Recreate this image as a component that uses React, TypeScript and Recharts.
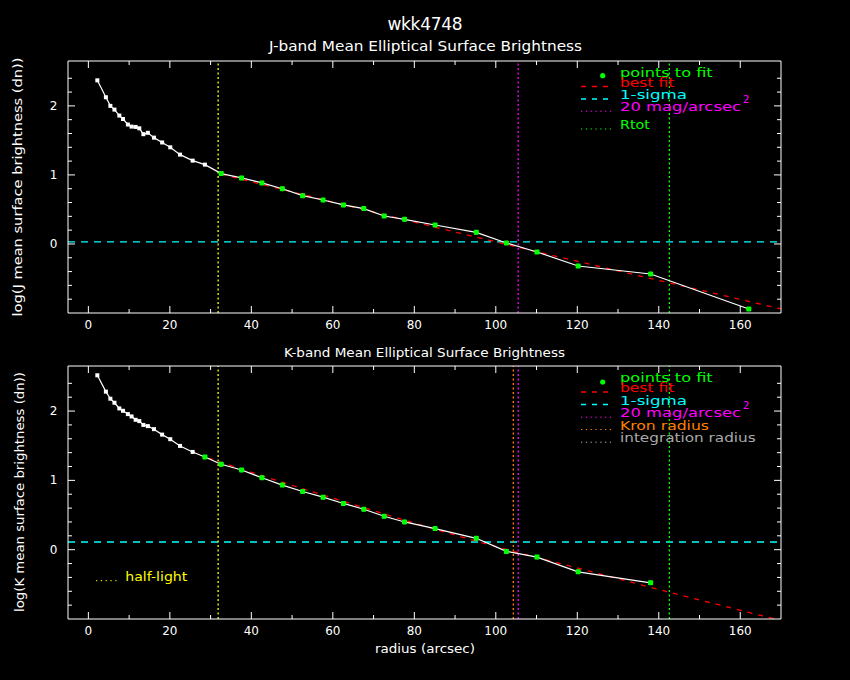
import { ComposedChart, Line, XAxis, YAxis, ReferenceLine } from 'recharts'

// radii of the elliptical annuli (arcsec), shared by both bands
const radius = [
  2.2, 4.3, 5.4, 6.4, 7.6, 8.5, 9.7, 10.6, 11.6, 12.5, 13.5, 14.6, 16.1, 18.1, 20.1, 22.5, 25.6, 28.6,
  32.6, 37.6, 42.6, 47.6, 52.6, 57.6, 62.6, 67.6, 72.6, 77.6, 85.1, 95.2, 102.6, 110.1, 120.2, 138.0, 162.1,
]
const jBrightness = [
  2.37, 2.125, 2.0, 1.946, 1.86, 1.81, 1.73, 1.7, 1.695, 1.675, 1.59, 1.61, 1.54, 1.47, 1.4, 1.294, 1.207, 1.149,
  1.019, 0.956, 0.884, 0.8, 0.7, 0.637, 0.565, 0.512, 0.405, 0.357, 0.275, 0.168, 0.014, -0.116, -0.319, -0.435, -0.942,
]
const kBrightness = [
  2.516, 2.28, 2.178, 2.12, 2.038, 2.004, 1.956, 1.922, 1.874, 1.855, 1.8, 1.783, 1.739, 1.66, 1.594, 1.497, 1.41, 1.338,
  1.232, 1.149, 1.038, 0.932, 0.84, 0.758, 0.667, 0.584, 0.483, 0.4, 0.304, 0.164, -0.025, -0.107, -0.319, -0.478,
]
const jFitStart = 32.6
const kFitStart = 28.6

const jBestFitRadius = [32.6, 94.4, 170]
const jBestFitValue = [1.01, 0.11, -0.94]
const kBestFitRadius = [29.4, 64.2, 98.5, 122.3, 141.1, 168.5]
const kBestFitValue = [1.32, 0.667, 0.07, -0.3, -0.59, -1.0]

const jSigma = 0.03
const kSigma = 0.11
const halfLight = 31.85
const mag20 = 105.5
const kronRadius = 104.3
const rtot = 142.6

const X_TICKS = [0, 10, 20, 30, 40, 50, 60, 70, 80, 90, 100, 110, 120, 130, 140, 150, 160]
const Y_TICKS = [-0.8, -0.6, -0.4, -0.2, 0, 0.2, 0.4, 0.6, 0.8, 1, 1.2, 1.4, 1.6, 1.8, 2, 2.2, 2.4]

const W = 850
const PANEL_H = 340
const LEFT = 68
const RIGHT = 69
const FONT = '"DejaVu Sans", Verdana, sans-serif'

const RED = '#ff0000'
const CYAN = '#00ffff'
const GREEN = '#00ff00'
const MAGENTA = '#ff00ff'
const YELLOW = '#ffff00'
const ORANGE = '#ff8000'
const GRAY = '#aaaaaa'
const DOTS = '2 2.5'

const xTick = (edge: number, dir: number, label: boolean) => (p: any) => {
  const v = p.payload.value
  const major = v % 20 === 0
  return (
    <g key={`x${v}`}>
      <line x1={p.x} y1={edge} x2={p.x} y2={edge + dir * (major ? 7 : 4)} stroke="#fff" />
      {label && major && (
        <text x={p.x} y={edge + 12} textAnchor="middle" dominantBaseline="central" fill="#fff" fontSize={12} fontFamily={FONT}>
          {v}
        </text>
      )}
    </g>
  )
}

const yTick = (edge: number, dir: number, label: boolean) => (p: any) => {
  const v = p.payload.value
  const major = Math.abs(v - Math.round(v)) < 1e-6
  return (
    <g key={`y${v}`}>
      <line x1={edge} y1={p.y} x2={edge + dir * (major ? 7 : 4)} y2={p.y} stroke="#fff" />
      {label && major && (
        <text x={edge - 10.5} y={p.y} textAnchor="end" dominantBaseline="central" fill="#fff" fontSize={12} fontFamily={FONT}>
          {Math.round(v)}
        </text>
      )}
    </g>
  )
}

const whiteDot = (p: any) => <rect key={`w${p.index}`} x={p.cx - 2} y={p.cy - 2} width={4} height={4} fill="#fff" />
const greenDot = (p: any) => (
  <rect key={`g${p.index}`} x={p.cx - 2.5} y={p.cy - 2.5} width={5} height={5} rx={1} fill={GREEN} />
)

interface VLine {
  x: number
  color: string
}

interface PanelProps {
  plotTop: number
  plotBottom: number
  values: number[]
  fitStart: number
  fitR: number[]
  fitV: number[]
  sigma: number
  vlines: VLine[]
}

function Panel({ plotTop, plotBottom, values, fitStart, fitR, fitV, sigma, vlines }: PanelProps) {
  const profile = values.map((v, i) => ({ r: radius[i], v }))
  const fitPoints = profile.filter(d => d.r >= fitStart)
  const bestFit = fitR.map((r, i) => ({ r, v: fitV[i] }))

  // each axis takes 1px of room, so the margins stop 1px short of the frame
  return (
    <ComposedChart
      width={W} height={PANEL_H}
      margin={{ top: plotTop - 1, right: RIGHT - 1, bottom: PANEL_H - plotBottom - 1, left: LEFT - 1 }}
    >
      <XAxis
        xAxisId="b" type="number" dataKey="r" domain={[-5, 170]} allowDataOverflow
        ticks={X_TICKS} interval={0} height={1} tickSize={0} axisLine={{ stroke: '#fff' }}
        tick={xTick(plotBottom, -1, true)}
      />
      <XAxis
        xAxisId="t" orientation="top" type="number" dataKey="r" domain={[-5, 170]} allowDataOverflow
        ticks={X_TICKS} interval={0} height={1} tickSize={0} axisLine={{ stroke: '#fff' }}
        tick={xTick(plotTop, 1, false)}
      />
      <YAxis
        yAxisId="l" type="number" domain={[-1, 2.65]} allowDataOverflow
        ticks={Y_TICKS} interval={0} width={1} tickSize={0} axisLine={{ stroke: '#fff' }}
        tick={yTick(LEFT, 1, true)}
      />
      <YAxis
        yAxisId="r" orientation="right" type="number" domain={[-1, 2.65]} allowDataOverflow
        ticks={Y_TICKS} interval={0} width={1} tickSize={0} axisLine={{ stroke: '#fff' }}
        tick={yTick(W - RIGHT, -1, false)}
      />
      <ReferenceLine xAxisId="b" yAxisId="l" y={sigma} stroke={CYAN} strokeWidth={1.4} strokeDasharray="7 6" />
      {vlines.map((l, i) => (
        <ReferenceLine key={i} xAxisId="b" yAxisId="l" x={l.x} stroke={l.color} strokeWidth={1.3} strokeDasharray={DOTS} />
      ))}
      <Line
        xAxisId="b" yAxisId="l" data={bestFit} dataKey="v" type="monotone"
        stroke={RED} strokeWidth={1.3} strokeDasharray="5 6" dot={false} isAnimationActive={false}
      />
      <Line
        xAxisId="b" yAxisId="l" data={profile} dataKey="v" type="linear"
        stroke="#fff" strokeWidth={1.2} dot={whiteDot} isAnimationActive={false}
      />
      <Line
        xAxisId="b" yAxisId="l" data={fitPoints} dataKey="v" type="linear"
        stroke="none" dot={greenDot} isAnimationActive={false}
      />
      {/* invisible series so the top and right axes get a scale of their own */}
      <Line
        xAxisId="t" yAxisId="r" data={fitPoints} dataKey="v" stroke="none" dot={false}
        isAnimationActive={false}
      />
    </ComposedChart>
  )
}

interface LegendItem {
  label: string
  color: string
  kind: 'dot' | 'dash' | 'dots'
  textY: number
  width: number
  sup?: boolean
}

function LegendBlock({ items, dotY }: { items: LegendItem[]; dotY: number }) {
  return (
    <g>
      {items.map((it, i) => (
        <g key={i}>
          {it.kind === 'dot' && <circle cx={602.7} cy={dotY} r={2.6} fill={it.color} />}
          {it.kind !== 'dot' && (
            <line
              x1={581} x2={612} y1={it.textY + 4.5} y2={it.textY + 4.5}
              stroke={it.color} strokeDasharray={it.kind === 'dash' ? '5 6' : '1.3 3.5'}
              strokeWidth={it.kind === 'dash' ? 1.3 : 1}
            />
          )}
          <text
            x={620} y={it.textY} dominantBaseline="central" fill={it.color} fontSize={13}
            fontFamily={FONT} textLength={it.width} lengthAdjust="spacingAndGlyphs"
          >
            {it.label}
          </text>
          {it.sup && (
            <text x={743} y={it.textY - 7} dominantBaseline="central" fill={it.color} fontSize={10} fontFamily={FONT}>
              2
            </text>
          )}
        </g>
      ))}
    </g>
  )
}

const topLegend: LegendItem[] = [
  { label: 'points to fit', color: GREEN, kind: 'dot', textY: 72.3, width: 92.7 },
  { label: 'best fit', color: RED, kind: 'dash', textY: 82, width: 54.3 },
  { label: '1-sigma', color: CYAN, kind: 'dash', textY: 94.5, width: 67 },
  { label: '20 mag/arcsec', color: MAGENTA, kind: 'dots', textY: 106.7, width: 121, sup: true },
  { label: 'Rtot', color: GREEN, kind: 'dots', textY: 124.5, width: 30 },
]

const bottomLegend: LegendItem[] = [
  { label: 'points to fit', color: GREEN, kind: 'dot', textY: 377.3, width: 92.7 },
  { label: 'best fit', color: RED, kind: 'dash', textY: 387.5, width: 54.3 },
  { label: '1-sigma', color: CYAN, kind: 'dash', textY: 400, width: 67 },
  { label: '20 mag/arcsec', color: MAGENTA, kind: 'dots', textY: 412.7, width: 121, sup: true },
  { label: 'Kron radius', color: ORANGE, kind: 'dots', textY: 425, width: 89 },
  { label: 'integration radius', color: GRAY, kind: 'dots', textY: 437.7, width: 135.7 },
]

export default function App() {
  return (
    <div style={{ position: 'absolute', left: 0, top: 0, width: W, height: 680, background: '#000', overflow: 'hidden' }}>
      <div style={{ position: 'absolute', left: 0, top: 0 }}>
        <Panel
          plotTop={61} plotBottom={313} values={jBrightness} fitStart={jFitStart}
          fitR={jBestFitRadius} fitV={jBestFitValue} sigma={jSigma}
          vlines={[{ x: halfLight, color: YELLOW }, { x: mag20, color: MAGENTA }, { x: rtot, color: GREEN }]}
        />
      </div>
      <div style={{ position: 'absolute', left: 0, top: PANEL_H }}>
        <Panel
          plotTop={26} plotBottom={279} values={kBrightness} fitStart={kFitStart}
          fitR={kBestFitRadius} fitV={kBestFitValue} sigma={kSigma}
          vlines={[
            { x: halfLight, color: YELLOW }, { x: kronRadius, color: ORANGE },
            { x: mag20, color: MAGENTA }, { x: rtot, color: GREEN },
          ]}
        />
      </div>
      <svg
        width={W} height={680}
        style={{ position: 'absolute', left: 0, top: 0, pointerEvents: 'none', fontFamily: FONT }}
      >
        <text x={425} y={24} textAnchor="middle" dominantBaseline="central" fill="#fff" fontSize={17} textLength={75}>
          wkk4748
        </text>
        <text x={425.5} y={46} textAnchor="middle" dominantBaseline="central" fill="#fff" fontSize={13.5} textLength={313} lengthAdjust="spacingAndGlyphs">
          J-band Mean Elliptical Surface Brightness
        </text>
        <text x={424.5} y={353} textAnchor="middle" dominantBaseline="central" fill="#fff" fontSize={12} textLength={281} lengthAdjust="spacingAndGlyphs">
          K-band Mean Elliptical Surface Brightness
        </text>
        <text
          transform="translate(17,187) rotate(-90)" textAnchor="middle" dominantBaseline="central"
          fill="#fff" fontSize={13} textLength={259} lengthAdjust="spacingAndGlyphs"
        >
          log(J mean surface brightness (dn))
        </text>
        <text
          transform="translate(20,492) rotate(-90)" textAnchor="middle" dominantBaseline="central"
          fill="#fff" fontSize={12} textLength={240} lengthAdjust="spacingAndGlyphs"
        >
          log(K mean surface brightness (dn))
        </text>
        <text x={425} y={648.7} textAnchor="middle" dominantBaseline="central" fill="#fff" fontSize={12.5} textLength={100} lengthAdjust="spacingAndGlyphs">
          radius (arcsec)
        </text>
        <LegendBlock items={topLegend} dotY={75.7} />
        <LegendBlock items={bottomLegend} dotY={382} />
        <line x1={96} x2={118} y1={580.7} y2={580.7} stroke={YELLOW} strokeDasharray="1.3 3.5" />
        <text x={125.3} y={576.7} dominantBaseline="central" fill={YELLOW} fontSize={12} textLength={62} lengthAdjust="spacingAndGlyphs">
          half-light
        </text>
      </svg>
    </div>
  )
}
